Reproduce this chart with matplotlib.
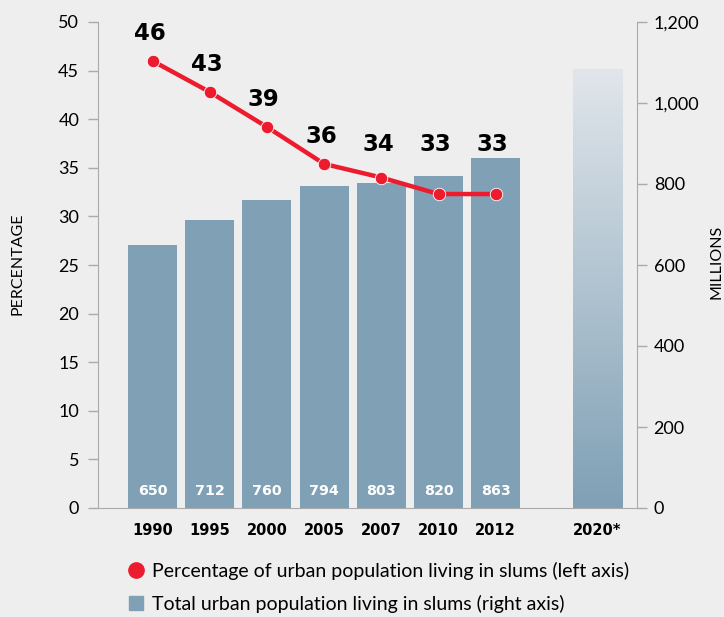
import numpy as np
import matplotlib
matplotlib.use("Agg")
import matplotlib.pyplot as plt
from matplotlib.lines import Line2D
from matplotlib.colors import LinearSegmentedColormap

plt.rcParams['font.family'] = ['Lato', 'DejaVu Sans']

# data
years = ['1990', '1995', '2000', '2005', '2007', '2010', '2012']
pct_slums = [46.0, 42.8, 39.2, 35.4, 34.0, 32.3, 32.3]
pct_labels = ['46', '43', '39', '36', '34', '33', '33']
pop_slums = [650, 712, 760, 794, 803, 820, 863]
year_proj = '2020*'
pop_proj = 1085

BG = '#eeeeee'
BAR = '#7fa0b5'
RED = '#ec1c2e'
GRID = '#aaaaaa'
HEAVY = 'DejaVu Sans'

fig = plt.figure(figsize=(7.24, 6.17), dpi=100, facecolor=BG)
ax = fig.add_axes([98/724, 1-508/617, (637-98)/724, (508-22)/617])
ax2 = ax.twinx()
ax.set_zorder(ax2.get_zorder() + 1)
ax.patch.set_visible(False)
ax2.set_facecolor(BG)

x = np.arange(len(years))
x_proj = len(years) + 0.78
w = 0.857

# bars (right axis)
ax2.bar(x, pop_slums, width=w, color=BAR, zorder=2)
for xi, v in zip(x, pop_slums):
    ax2.text(xi, 43, str(v), ha='center', va='center', color='white',
             fontsize=10.3, fontweight='bold', family=HEAVY)

proj = ax2.bar([x_proj], [pop_proj], width=w, color='none', zorder=2)[0]
cmap = LinearSegmentedColormap.from_list('fade', [BAR, '#e1e6eb'])
grad = np.linspace(0, 1, 256).reshape(-1, 1)
img = ax2.imshow(grad, cmap=cmap, origin='lower', aspect='auto',
                 extent=[x_proj - w/2, x_proj + w/2, 0, pop_proj], zorder=2)
img.set_clip_path(proj)

# line (left axis)
ax.plot(x, pct_slums, color=RED, lw=3.2, marker='o', ms=9,
        mec='white', mew=0.6, zorder=5, solid_capstyle='round')
for xi, v, lab in zip(x, pct_slums, pct_labels):
    # keep the labels clear of the bars
    ly = max(v + 2.8, 37.4)
    ax.annotate(lab, (xi, ly), xytext=(-2.2, 0), textcoords='offset points',
                ha='center', va='center', fontsize=16.5, fontweight='bold',
                family=HEAVY, color='black')

# axes limits
xlim = (-0.953, 8.47)
ax.set_xlim(xlim)
ax2.set_xlim(xlim)
ax.set_ylim(0, 50)
ax2.set_ylim(0, 1200)

ax.set_yticks(np.arange(0, 51, 5))
ax2.set_yticks(np.arange(0, 1201, 200))
ax2.set_yticklabels(['0', '200', '400', '600', '800', '1,000', '1,200'])
ax.set_xticks(list(x) + [x_proj])
ax.set_xticklabels(years + [year_proj], fontweight='bold', fontsize=10.5,
                   family=HEAVY)

for a in (ax, ax2):
    for s in a.spines.values():
        s.set_visible(False)
    a.tick_params(axis='x', length=0, pad=11)
ax.tick_params(axis='y', length=7, width=1, color=GRID, labelsize=13, pad=6.5)
ax2.tick_params(axis='y', length=7, width=1, color=GRID, labelsize=13, pad=5)

ax.spines['left'].set_visible(True)
ax.spines['left'].set_color(GRID)
ax.spines['bottom'].set_visible(True)
ax.spines['bottom'].set_color(GRID)
ax2.spines['right'].set_visible(True)
ax2.spines['right'].set_color(GRID)

fig.text(18/724, 1-264/617, 'PERCENTAGE', rotation=90, ha='center',
         va='center', fontsize=11.5)
fig.text(717/724, 1-262/617, 'MILLIONS', rotation=90, ha='center',
         va='center', fontsize=11.5)

# legend
handles = [
    Line2D([], [], marker='o', color=RED, ls='none', ms=11),
    Line2D([], [], marker='s', color=BAR, ls='none', ms=10),
]
labels = ['Percentage of urban population living in slums (left axis)',
          'Total urban population living in slums (right axis)']
fig.legend(handles, labels, loc='upper left',
           bbox_to_anchor=(125/724, 1-562/617), frameon=False,
           fontsize=14, handletextpad=0.3, labelspacing=0.75,
           handlelength=1.1, borderaxespad=0, borderpad=0)

fig.savefig('out.png', dpi=100, facecolor=BG)
